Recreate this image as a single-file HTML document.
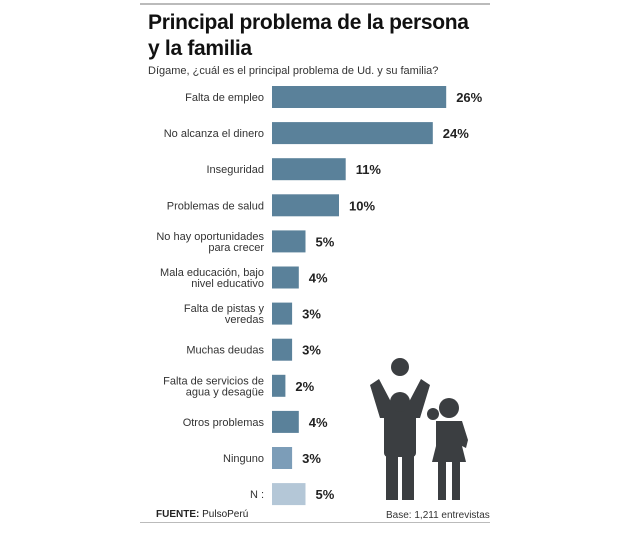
<!DOCTYPE html>
<html><head><meta charset="utf-8"><style>
body{margin:0;width:640px;height:534px;background:#fff;font-family:"Liberation Sans",sans-serif;position:relative;overflow:hidden}
.t{position:absolute}
</style></head><body>
<div class="t" style="left:140px;top:3px;width:350px;height:2px;background:#bbb"></div>
<div class="t" style="left:148px;top:10px;font-size:21px;font-weight:bold;line-height:26px;color:#111;letter-spacing:-0.3px">Principal problema de la persona<br>y la familia</div>
<div class="t" style="left:148px;top:65px;font-size:11px;color:#333">Dígame, ¿cuál es el principal problema de Ud. y su familia?</div>
<svg class="t" style="left:0;top:0" width="640" height="534">
<g id="bars"></g>
<g fill="#3b3e41">
<circle cx="400" cy="367" r="9"/>
<path d="M370 385 L379 379 L390 400 A12 12 0 0 0 410 400 L421 379 L430 385 L420 418 L380 418 Z"/>
<circle cx="400" cy="402" r="10"/>
<rect x="384" y="412" width="32" height="45" rx="4"/>
<rect x="386" y="450" width="12" height="50"/>
<rect x="402" y="450" width="12" height="50"/>
<circle cx="449" cy="408" r="10"/>
<circle cx="433" cy="414" r="6"/>
<path d="M436 421 L462 421 L468 440 L466 448 L462 446 L466 462 L432 462 L436 446 Z"/>
<rect x="438" y="460" width="8" height="40"/>
<rect x="452" y="460" width="8" height="40"/>
</g>
</svg>
<div class="t" style="left:156px;top:509px;font-size:10px;color:#222"><b>FUENTE:</b> PulsoPerú</div>
<div class="t" style="left:386px;top:510px;font-size:10px;color:#333">Base: 1,211 entrevistas</div>
<div class="t" style="left:140px;top:522px;width:350px;height:1px;background:#bbb"></div>
<script>
const categories=[["Falta de empleo"],["No alcanza el dinero"],["Inseguridad"],["Problemas de salud"],["No hay oportunidades","para crecer"],["Mala educación, bajo","nivel educativo"],["Falta de pistas y","veredas"],["Muchas deudas"],["Falta de servicios de","agua y desagüe"],["Otros problemas"],["Ninguno"],["N :"]];
const values=[26,24,11,10,5,4,3,3,2,4,3,5];
const colors=["#5a819a","#5a819a","#5a819a","#5a819a","#5a819a","#5a819a","#5a819a","#5a819a","#5a819a","#5a819a","#7c9db8","#b4c7d7"];
const NS="http://www.w3.org/2000/svg";
const x0=272, pxPer=6.7, y0=97, step=36.1, bh=22;
const xs=v=>x0+v*pxPer, ys=i=>y0+i*step;
const g=document.getElementById('bars');
values.forEach((v,i)=>{
 const r=document.createElementNS(NS,'rect');
 
 
 r.setAttribute('x',x0);r.setAttribute('y',ys(i)-bh/2);
 r.setAttribute('width',xs(v)-x0);r.setAttribute('height',bh);
 r.setAttribute('fill',colors[i]);g.appendChild(r);
 const t=document.createElementNS(NS,'text');
 
 
 t.setAttribute('x',xs(v)+10);t.setAttribute('y',ys(i)+5);
 t.setAttribute('font-size','13');t.setAttribute('font-weight','bold');t.setAttribute('fill','#222');
 t.textContent=v+'%';g.appendChild(t);
 const lines=categories[i];
 lines.forEach((s,j)=>{
  const l=document.createElementNS(NS,'text');
  
  
  l.setAttribute('x',264);
  l.setAttribute('y',ys(i)+4+(j-(lines.length-1)/2)*11);
  l.setAttribute('text-anchor','end');l.setAttribute('font-size','11');l.setAttribute('fill','#333');
  l.textContent=s;g.appendChild(l);
 });
});
</script>
</body></html>
